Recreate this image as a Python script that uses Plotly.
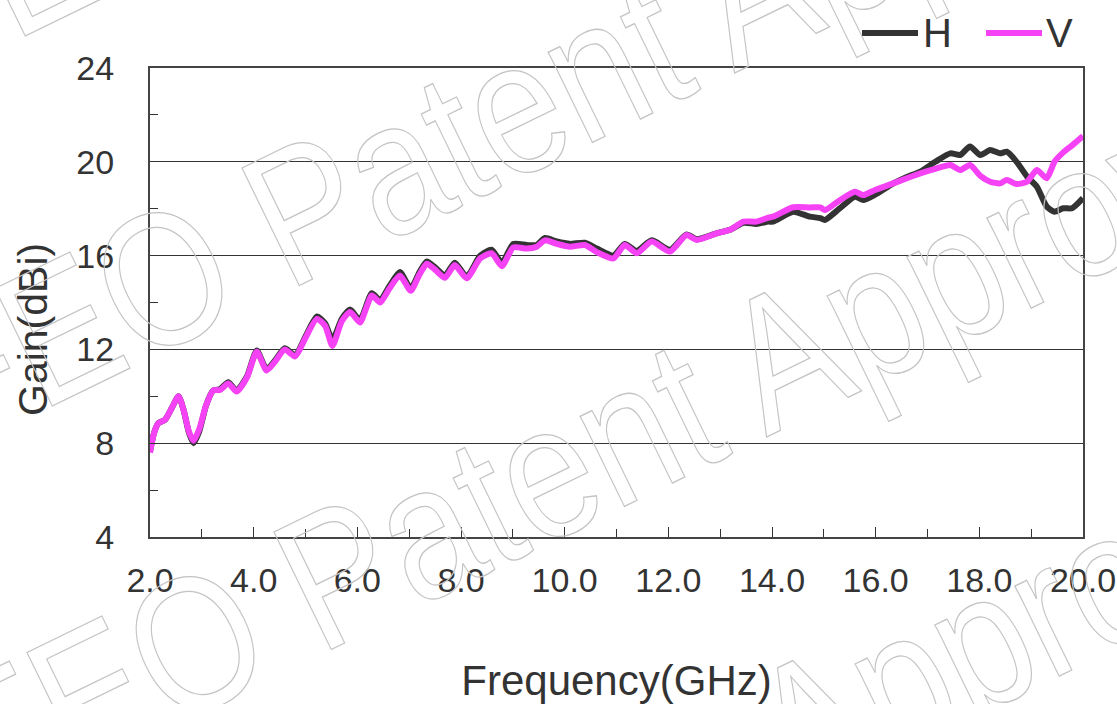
import plotly.graph_objects as go

# Frequency (GHz) sample points
freq = [2.00, 2.08, 2.16, 2.29, 2.42, 2.55, 2.65, 2.75, 2.84, 2.95, 3.08, 3.22, 3.35, 3.51, 3.67, 3.87,
        4.06, 4.25, 4.42, 4.60, 4.80, 5.00, 5.22, 5.38, 5.52, 5.70, 5.86, 6.05, 6.28, 6.44, 6.62, 6.82,
        7.03, 7.20, 7.34, 7.50, 7.69, 7.88, 8.11, 8.37, 8.59, 8.79, 9.01, 9.27, 9.46, 9.62, 9.85, 10.10,
        10.39, 10.62, 10.94, 11.16, 11.39, 11.68, 12.03, 12.35, 12.55, 12.93, 13.19, 13.45, 13.70, 13.93,
        14.02, 14.41, 14.73, 14.93, 15.02, 15.30, 15.60, 15.76, 15.99, 16.34, 16.60, 16.86, 17.15, 17.44,
        17.63, 17.82, 18.02, 18.21, 18.40, 18.53, 18.72, 18.92, 19.11, 19.30, 19.45, 19.62, 19.79, 20.00]

gain_h = [7.65, 8.45, 8.85, 9.00, 9.50, 10.00, 9.40, 8.45, 8.00, 8.50, 9.60, 10.25, 10.30, 10.60, 10.25, 10.85,
          11.95, 11.15, 11.55, 12.05, 11.75, 12.55, 13.40, 13.10, 12.40, 13.30, 13.70, 13.25, 14.40, 14.10, 14.70, 15.30,
          14.60, 15.30, 15.75, 15.50, 15.15, 15.70, 15.10, 16.00, 16.25, 15.70, 16.50, 16.45, 16.45, 16.75, 16.60, 16.50,
          16.55, 16.30, 16.00, 16.50, 16.20, 16.65, 16.25, 16.90, 16.70, 16.95, 17.10, 17.40, 17.35, 17.45,
          17.45, 17.87, 17.66, 17.60, 17.52, 18.00, 18.51, 18.37, 18.60, 19.08, 19.35, 19.58, 20.00, 20.36,
          20.29, 20.65, 20.29, 20.50, 20.36, 20.43, 20.00, 19.37, 18.94, 18.09, 17.87, 18.02, 18.02, 18.45]

gain_v = [7.60, 8.45, 8.85, 9.00, 9.50, 10.00, 9.40, 8.50, 8.10, 8.60, 9.60, 10.25, 10.27, 10.55, 10.20, 10.80,
          11.90, 11.10, 11.50, 12.00, 11.70, 12.50, 13.30, 13.00, 12.15, 13.20, 13.60, 13.15, 14.30, 14.00, 14.60, 15.15,
          14.50, 15.20, 15.65, 15.40, 15.05, 15.60, 15.03, 15.88, 16.10, 15.55, 16.35, 16.30, 16.38, 16.65, 16.50, 16.38,
          16.45, 16.15, 15.88, 16.45, 16.10, 16.60, 16.17, 16.88, 16.67, 16.95, 17.10, 17.45, 17.45, 17.62,
          17.66, 18.06, 18.05, 18.06, 17.94, 18.35, 18.72, 18.58, 18.80, 19.08, 19.30, 19.51, 19.70, 19.86,
          19.65, 19.86, 19.40, 19.15, 19.08, 19.22, 19.05, 19.15, 19.65, 19.30, 20.00, 20.40, 20.70, 21.10]

series_names = ["H", "V"]
series_colors = ["#333333", "#f542f5"]
x_ticks = [2, 4, 6, 8, 10, 12, 14, 16, 18, 20]
y_ticks = [4, 8, 12, 16, 20, 24]
watermark = "HFEO Patent Approved"

FONT = "Liberation Sans, Arial, sans-serif"
TXT = "#333333"

# plot-area geometry in pixels (used to place annotations in paper coords)
L, R, T, B = 150, 1083, 68, 537
def px(xp):
    return (xp - L) / (R - L)
def py(yp):
    return (B - yp) / (B - T)

fig = go.Figure()
for name, ys, col in zip(series_names, [gain_h, gain_v], series_colors):
    fig.add_trace(go.Scatter(x=freq, y=ys, name=name, mode="lines", showlegend=False,
                             line=dict(color=col, width=6, shape="spline", smoothing=0.6)))

fig.update_layout(
    width=1117, height=704,
    margin=dict(l=L, r=1117 - R, t=T, b=704 - B, autoexpand=False),
    paper_bgcolor="white", plot_bgcolor="white",
    font=dict(family=FONT, color=TXT),
    showlegend=False,
)

fig.update_xaxes(range=[2, 20], tickvals=x_ticks, tickformat=".1f", automargin=False,
                 ticks="inside", ticklen=10, tickwidth=1.2, tickcolor="#333",
                 minor=dict(dtick=1, ticks="inside", ticklen=8, tickwidth=1.2, tickcolor="#333", showgrid=False),
                 showline=True, linecolor="#444", linewidth=2, mirror=True,
                 showgrid=False, zeroline=False,
                 tickfont=dict(size=34, color=TXT, family=FONT), ticklabelstandoff=12,
                 title=dict(text="Frequency(GHz)", font=dict(size=42, color=TXT, family=FONT), standoff=70))

fig.update_yaxes(range=[4, 24], tickvals=y_ticks, automargin=False,
                 ticks="inside", ticklen=8, tickwidth=1.2, tickcolor="#333",
                 minor=dict(dtick=2, tick0=4, ticks="inside", ticklen=8, tickwidth=1.2, tickcolor="#333", showgrid=False),
                 showline=True, linecolor="#444", linewidth=2, mirror=True,
                 showgrid=True, gridcolor="#333", gridwidth=1, zeroline=False,
                 tickfont=dict(size=34, color=TXT, family=FONT), ticklabelstandoff=27)

fig.add_annotation(text="Gain(dBi)", textangle=-90, xref="paper", yref="paper",
                   x=px(33), y=py(330), xanchor="center", yanchor="middle",
                   showarrow=False, font=dict(size=41, color=TXT, family=FONT))

# manual legend (line samples + labels)
legend_items = [(862, 918, 921), (986, 1042, 1044)]
for (x0, x1, xt), name, col in zip(legend_items, series_names, series_colors):
    fig.add_shape(type="line", xref="paper", yref="paper", x0=px(x0), x1=px(x1), y0=py(33), y1=py(33),
                  line=dict(color=col, width=6))
    fig.add_annotation(text=name, xref="paper", yref="paper", x=px(xt), y=py(33),
                       xanchor="left", yanchor="middle", showarrow=False,
                       font=dict(size=40, color=TXT, family=FONT))

# watermark lines (centres in pixels)
for cx, cy in [(543, -290), (570, 80), (602, 444), (630, 812)]:
    fig.add_annotation(text=watermark, textangle=-26, xref="paper", yref="paper",
                       x=px(cx), y=py(cy), xanchor="center", yanchor="middle",
                       showarrow=False, font=dict(size=190, color="#d0d0d0", family=FONT))

post = """
document.querySelectorAll('text.annotation-text').forEach(function(t){
  if (t.textContent.indexOf('Patent') >= 0) {
    t.style.fill = 'none'; t.style.stroke = '#c4c4c4'; t.style.strokeWidth = '1.3px';
    t.style.transformBox = 'fill-box'; t.style.transformOrigin = 'center';
    t.style.transform = 'scaleX(0.84)';
  }
});
"""

fig.write_html("out.html", post_script=post)
